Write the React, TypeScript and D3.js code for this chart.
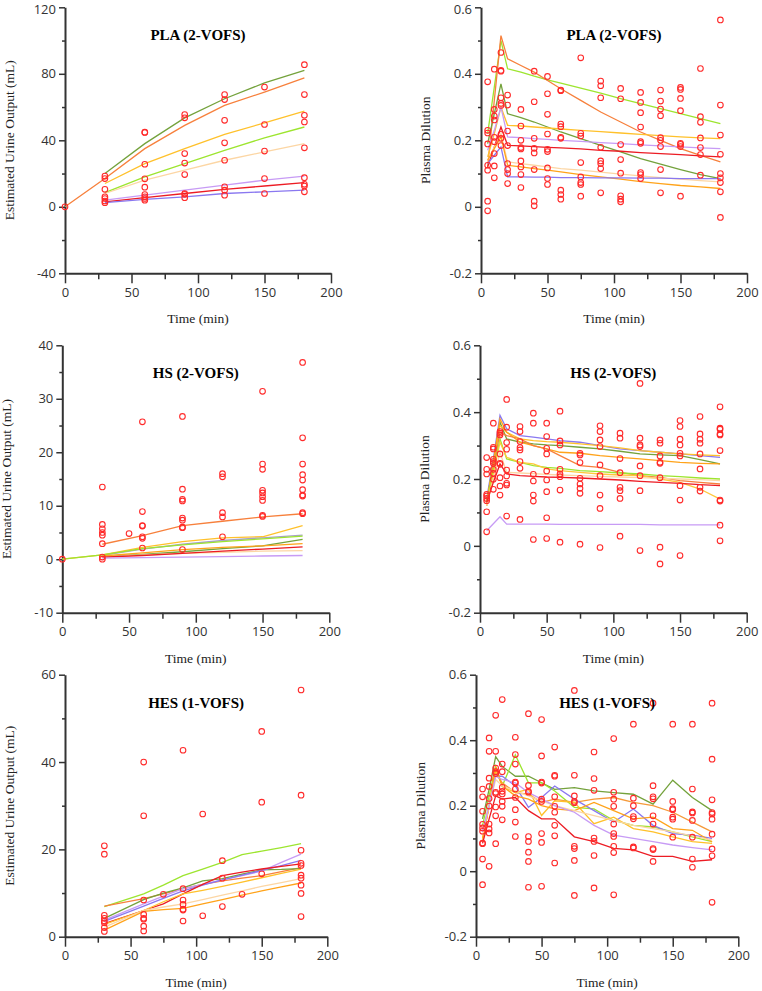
import * as d3 from "d3";
import { useRef, useEffect } from "react";

// colours of the individual fitted curves
const DKGREEN = "#74a23c";
const ORANGE = "#f7803c";
const GOLD = "#ffc12b";
const LIME = "#9de52f";
const PEACH = "#fcd6a4";
const LILAC = "#c79bf5";
const RED = "#ec1c24";
const BLUE = "#8a78f0";
const AMBER = "#ffa31a";
const ORANGE2 = "#f59a3a";

// ---- PLA urine output
const plaUrineObsTimes = [0, 30, 60, 90, 120, 150, 180];
const plaUrineObs = [
  [0],
  [18.5, 17, 10.5, 6, 5, 3.5, 2.5],
  [44.7, 44.9, 25.6, 16.8, 11.8, 7.4, 6, 5, 4],
  [55.5, 53.5, 32, 26.3, 19.4, 8, 7.5, 5.5],
  [67.5, 64.5, 52, 38.5, 28, 12, 10, 7],
  [72, 49.5, 33.5, 17, 8],
  [85.5, 67.5, 55, 51, 35.5, 17.5, 13.5, 12.5, 9],
];
const plaUrineFitTimes = [0, 30, 60, 90, 120, 150, 180];
const plaUrineFits = [
  [null, 20, 38, 53.5, 65, 74.5, 82],
  [0, 17, 35, 49, 61, 69, 77.5],
  [null, 14, 26, 35, 43.5, 50.5, 57.5],
  [null, 8.5, 18, 26, 34, 41.5, 48],
  [null, 8, 16, 22, 28, 33, 38],
  [null, 4, 7, 10, 13, 16, 18.5],
  [null, 3, 5.5, 8, 10.5, 12.5, 14.5],
  [null, 2.5, 4.5, 6, 8, 9, 10],
];
const plaUrineColors = [DKGREEN, ORANGE, GOLD, LIME, PEACH, LILAC, RED, BLUE];

// ---- plasma dilution sampling times (all groups)
const dilTimes = [5, 10, 15, 20, 30, 40, 50, 60, 75, 90, 105, 120, 135, 150, 165, 180];

// ---- PLA plasma dilution
const plaDilObs = [
  [0.376, 0.23, 0.222, 0.189, 0.125, 0.11, 0.017, -0.012],
  [0.414, 0.293, 0.273, 0.261, 0.209, 0.196, 0.16, 0.123, 0.087],
  [0.464, 0.41, 0.408, 0.328, 0.311, 0.305, 0.218, 0.206, 0.184],
  [0.336, 0.306, 0.228, 0.184, 0.13, 0.112, 0.1, 0.07],
  [0.293, 0.243, 0.2, 0.178, 0.174, 0.138, 0.12, 0.097, 0.058],
  [0.408, 0.316, 0.206, 0.176, 0.162, 0.112, 0.017, 0.003],
  [0.392, 0.34, 0.278, 0.219, 0.173, 0.166, 0.117, 0.085, 0.067],
  [0.351, 0.349, 0.249, 0.241, 0.209, 0.206, 0.05, 0.037, 0.023],
  [0.448, 0.221, 0.213, 0.133, 0.09, 0.073, 0.067, 0.032],
  [0.378, 0.364, 0.328, 0.179, 0.138, 0.13, 0.115, 0.042],
  [0.356, 0.325, 0.187, 0.142, 0.101, 0.033, 0.023, 0.015],
  [0.344, 0.314, 0.283, 0.24, 0.196, 0.191, 0.103, 0.097, 0.085],
  [0.351, 0.318, 0.294, 0.274, 0.208, 0.2, 0.181, 0.112, 0.042],
  [0.359, 0.353, 0.326, 0.289, 0.191, 0.188, 0.181, 0.032],
  [0.416, 0.271, 0.254, 0.207, 0.178, 0.157, 0.095],
  [0.562, 0.306, 0.216, 0.158, 0.1, 0.087, 0.073, 0.045, -0.032],
];
const plaDilFits = [
  [0.22, 0.36, 0.5, 0.415, 0.405, 0.393, 0.382, 0.372, 0.357, 0.342, 0.325, 0.31, 0.295, 0.28, 0.265, 0.25],
  [0.12, 0.32, 0.515, 0.445, 0.425, 0.405, 0.38, 0.355, 0.32, 0.285, 0.255, 0.225, 0.2, 0.175, 0.155, 0.135],
  [0.19, 0.28, 0.37, 0.28, 0.268, 0.255, 0.24, 0.225, 0.205, 0.185, 0.165, 0.145, 0.128, 0.112, 0.097, 0.085],
  [0.15, 0.22, 0.3, 0.245, 0.243, 0.24, 0.237, 0.234, 0.23, 0.226, 0.222, 0.218, 0.214, 0.21, 0.207, 0.205],
  [0.17, 0.23, 0.3, 0.21, 0.208, 0.205, 0.203, 0.2, 0.197, 0.193, 0.19, 0.186, 0.183, 0.18, 0.177, 0.175],
  [0.12, 0.18, 0.24, 0.185, 0.183, 0.181, 0.179, 0.177, 0.174, 0.17, 0.167, 0.163, 0.16, 0.157, 0.153, 0.15],
  [0.14, 0.18, 0.22, 0.135, 0.13, 0.125, 0.12, 0.115, 0.11, 0.104, 0.098, 0.093, 0.088, 0.083, 0.079, 0.075],
  [0.14, 0.175, 0.21, 0.125, 0.12, 0.115, 0.11, 0.105, 0.097, 0.09, 0.083, 0.076, 0.07, 0.064, 0.06, 0.055],
  [0.13, 0.155, 0.18, 0.09, 0.09, 0.089, 0.089, 0.088, 0.088, 0.087, 0.087, 0.086, 0.086, 0.085, 0.085, 0.085],
];
const plaDilColors = [LIME, ORANGE, DKGREEN, GOLD, LILAC, RED, PEACH, AMBER, BLUE];

// ---- HS urine output
const hsUrineObsTimes = [0, 30, 50, 60, 90, 120, 150, 180];
const hsUrineObs = [
  [0],
  [13.5, 6.5, 5.7, 5.0, 4.5, 2.9, 0.4, 0],
  [4.8],
  [25.7, 8.9, 6.3, 6.2, 4.2, 3.9, 2.1],
  [26.7, 13.1, 11.2, 10.9, 7.7, 7.3, 6.0, 5.9, 1.8],
  [16.0, 15.4, 8.7, 7.9, 4.2],
  [31.4, 17.8, 16.8, 12.9, 12.4, 11.7, 11.0, 8.2, 8.0],
  [36.8, 22.7, 17.8, 15.8, 14.8, 13.0, 12.0, 11.8, 8.7, 8.5],
];
const hsUrineFitTimes = [0, 30, 60, 90, 120, 150, 180];
const hsUrineFits = [
  [null, 2.8, 4.4, 6.3, 7.1, 7.9, 8.5],
  [0, 0.8, 2.2, 3.3, 4.0, 4.2, 6.3],
  [null, 0.7, 1.9, 2.8, 3.5, 4.0, 4.5],
  [0, 0.8, 2.0, 2.7, 3.3, 3.8, 4.3],
  [null, 0.5, 0.9, 1.4, 2.0, 2.5, 3.7],
  [null, 0.6, 1.2, 1.8, 2.2, 2.5, 2.9],
  [null, 0.4, 0.8, 1.1, 1.3, 1.5, 1.6],
  [null, 0.4, 0.7, 1.1, 1.5, 1.9, 2.3],
  [null, 0.2, 0.3, 0.4, 0.5, 0.6, 0.7],
];
const hsUrineColors = [ORANGE, GOLD, "#a8a0c8", LIME, DKGREEN, AMBER, PEACH, RED, LILAC];

// ---- HS plasma dilution
const hsDilObs = [
  [0.264, 0.229, 0.215, 0.154, 0.149, 0.142, 0.135, 0.102, 0.042],
  [0.367, 0.295, 0.29, 0.259, 0.252, 0.247, 0.229, 0.217, 0.199, 0.169],
  [0.342, 0.337, 0.332, 0.275, 0.247, 0.244, 0.204, 0.179, 0.152],
  [0.438, 0.355, 0.309, 0.289, 0.227, 0.209, 0.187, 0.182, 0.089],
  [0.357, 0.342, 0.312, 0.294, 0.287, 0.252, 0.232, 0.079],
  [0.397, 0.367, 0.214, 0.194, 0.152, 0.134, 0.019],
  [0.367, 0.327, 0.292, 0.275, 0.224, 0.197, 0.162, 0.084, 0.022],
  [0.403, 0.314, 0.302, 0.229, 0.215, 0.207, 0.167, 0.011],
  [0.277, 0.272, 0.249, 0.202, 0.185, 0.172, 0.157, 0.005],
  [0.359, 0.342, 0.317, 0.297, 0.242, 0.21, 0.152, 0.112, -0.005],
  [0.337, 0.322, 0.261, 0.219, 0.175, 0.165, 0.142, 0.029],
  [0.486, 0.322, 0.302, 0.297, 0.239, 0.21, 0.165, -0.014],
  [0.317, 0.307, 0.269, 0.25, 0.247, 0.204, -0.004, -0.054],
  [0.375, 0.357, 0.319, 0.302, 0.277, 0.269, 0.18, 0.137, -0.029],
  [0.387, 0.335, 0.319, 0.307, 0.275, 0.23, 0.175, 0.164],
  [0.416, 0.352, 0.349, 0.335, 0.332, 0.285, 0.137, 0.134, 0.062, 0.015],
];
const hsDilFits = [
  [0.14, 0.26, 0.39, 0.35, 0.33, 0.325, 0.32, 0.315, 0.31, 0.3, 0.29, 0.285, 0.28, 0.275, 0.27, 0.265],
  [0.13, 0.25, 0.37, 0.32, 0.31, 0.305, 0.302, 0.3, 0.295, 0.29, 0.283, 0.275, 0.272, 0.27, 0.258, 0.245],
  [0.13, 0.245, 0.36, 0.34, 0.32, 0.315, 0.312, 0.31, 0.305, 0.3, 0.293, 0.285, 0.28, 0.275, 0.272, 0.27],
  [0.12, 0.25, 0.38, 0.34, 0.31, 0.3, 0.29, 0.28, 0.277, 0.27, 0.265, 0.26, 0.255, 0.25, 0.247, 0.245],
  [0.12, 0.23, 0.34, 0.33, 0.32, 0.3, 0.29, 0.27, 0.24, 0.235, 0.22, 0.21, 0.205, 0.195, 0.19, 0.185],
  [0.13, 0.225, 0.32, 0.26, 0.25, 0.24, 0.235, 0.232, 0.225, 0.222, 0.218, 0.215, 0.21, 0.207, 0.203, 0.2],
  [0.12, 0.215, 0.31, 0.265, 0.25, 0.245, 0.23, 0.225, 0.22, 0.215, 0.212, 0.21, 0.2, 0.19, 0.17, 0.14],
  [0.12, 0.2, 0.28, 0.22, 0.218, 0.216, 0.214, 0.212, 0.21, 0.208, 0.206, 0.204, 0.202, 0.2, 0.198, 0.195],
  [0.13, 0.19, 0.245, 0.215, 0.21, 0.208, 0.206, 0.205, 0.203, 0.2, 0.197, 0.193, 0.19, 0.187, 0.183, 0.18],
  [0.045, 0.066, 0.087, 0.065, 0.065, 0.065, 0.065, 0.064, 0.064, 0.064, 0.064, 0.064, 0.063, 0.063, 0.063, 0.063],
];
const hsDilColors = [BLUE, DKGREEN, GOLD, AMBER, ORANGE, LIME, "#ffc83c", PEACH, RED, LILAC];

// ---- HES urine output
const hesUrineObsTimes = [30, 60, 75, 90, 105, 120, 135, 150, 180];
const hesUrineObs = [
  [20.8, 18.9, 4.9, 4.2, 3.6, 3.2, 2.1, 1.2],
  [40.0, 27.7, 8.4, 5.1, 4.2, 4.0, 2.4, 1.3],
  [9.7],
  [42.7, 11.0, 8.4, 7.4, 6.3, 6.1, 3.6],
  [28.1, 4.8],
  [17.4, 13.4, 6.9],
  [9.7],
  [47.0, 30.8, 14.4],
  [56.5, 32.4, 19.8, 16.8, 16.3, 14.1, 13.4, 11.8, 9.9, 4.6],
];
const hesUrineFitTimes = [30, 60, 75, 90, 105, 120, 135, 150, 165, 180];
const hesUrineFits = [
  [6.9, 9.8, 11.8, 14.0, 15.5, 17.0, 18.8, 19.6, 20.4, 21.3],
  [7.0, 8.7, 9.8, 11.0, 12.0, 12.8, 13.4, 14.0, 14.9, 15.8],
  [4.2, 8.5, 10.0, 11.2, 12.8, 13.3, 14.3, 15.3, 15.4, 15.6],
  [3.8, 7.5, 9.3, 11.0, 12.0, 13.0, 14.0, 15.0, 17.0, 18.9],
  [3.5, 7.0, 8.8, 10.5, 11.8, 13.0, 14.1, 15.2, 16.3, 17.5],
  [3.0, 6.0, 7.5, 9.8, 12.0, 14.0, 14.8, 15.5, 16.1, 16.7],
  [2.8, 6.0, 8.0, 9.8, 10.6, 11.5, 12.5, 13.5, 14.5, 15.5],
  [2.2, 6.0, 6.8, 7.5, 8.5, 9.5, 10.5, 11.5, 12.4, 13.3],
  [1.5, 5.8, 6.2, 6.5, 7.5, 8.5, 9.5, 10.5, 11.4, 12.3],
];
const hesUrineColors = [LIME, ORANGE, DKGREEN, LILAC, BLUE, RED, GOLD, PEACH, AMBER];

// ---- HES plasma dilution
const hesDilObs = [
  [0.251, 0.227, 0.183, 0.143, 0.132, 0.122, 0.086, 0.084, 0.037, -0.041],
  [0.407, 0.366, 0.284, 0.259, 0.222, 0.199, 0.144, 0.129, 0.117, 0.015],
  [0.476, 0.366, 0.315, 0.304, 0.298, 0.241, 0.237, 0.196, 0.169, 0.084],
  [0.524, 0.327, 0.304, 0.256, 0.244, 0.236, 0.213, 0.198, 0.157],
  [0.409, 0.356, 0.327, 0.272, 0.269, 0.251, 0.225, 0.188, 0.15, 0.106],
  [0.481, 0.262, 0.244, 0.241, 0.106, 0.091, 0.058, 0.03, -0.049],
  [0.463, 0.352, 0.272, 0.269, 0.22, 0.213, 0.115, 0.088, -0.046],
  [0.379, 0.293, 0.29, 0.227, 0.198, 0.18, 0.14, 0.108, 0.025],
  [0.552, 0.293, 0.23, 0.213, 0.209, 0.076, 0.069, 0.033, -0.074],
  [0.364, 0.283, 0.247, 0.101, 0.091, 0.048, -0.051],
  [0.405, 0.241, 0.22, 0.198, 0.144, 0.115, 0.106, 0.076, 0.057, -0.072],
  [0.449, 0.223, 0.2, 0.167, 0.16, 0.074, 0.071],
  [0.513, 0.261, 0.227, 0.221, 0.169, 0.144, 0.069, 0.066, 0.03],
  [0.449, 0.213, 0.191, 0.188, 0.165, 0.159, 0.104],
  [0.449, 0.251, 0.181, 0.178, 0.155, 0.104, 0.037, 0.012],
  [0.513, 0.342, 0.218, 0.179, 0.175, 0.159, 0.113, 0.068, 0.047, -0.095],
];
const hesDilFits = [
  [0.16, 0.25, 0.35, 0.32, 0.29, 0.29, 0.27, 0.25, 0.255, 0.245, 0.24, 0.235, 0.205, 0.278, 0.225, 0.185],
  [0.14, 0.23, 0.32, 0.26, 0.355, 0.27, 0.27, 0.245, 0.195, 0.19, 0.155, 0.14, 0.135, 0.12, 0.105, 0.09],
  [0.1, 0.2, 0.3, 0.27, 0.24, 0.235, 0.21, 0.22, 0.21, 0.22, 0.225, 0.21, 0.2, 0.18, 0.15, 0.12],
  [0.12, 0.2, 0.29, 0.29, 0.26, 0.195, 0.225, 0.26, 0.22, 0.185, 0.15, 0.19, 0.14, 0.115, 0.11, 0.1],
  [0.1, 0.2, 0.31, 0.26, 0.24, 0.25, 0.17, 0.215, 0.21, 0.145, 0.165, 0.13, 0.12, 0.105, 0.09, 0.085],
  [0.09, 0.2, 0.32, 0.26, 0.23, 0.22, 0.2, 0.19, 0.185, 0.21, 0.185, 0.16, 0.165, 0.13, 0.125, 0.09],
  [0.11, 0.2, 0.28, 0.26, 0.245, 0.23, 0.215, 0.2, 0.185, 0.17, 0.155, 0.14, 0.13, 0.12, 0.108, 0.095],
  [0.12, 0.2, 0.29, 0.28, 0.27, 0.24, 0.22, 0.2, 0.18, 0.14, 0.11, 0.1, 0.09, 0.08, 0.072, 0.065],
  [0.085, 0.16, 0.23, 0.22, 0.225, 0.185, 0.16, 0.16, 0.105, 0.09, 0.07, 0.065, 0.045, 0.045, 0.03, 0.035],
];
const hesDilColors = [DKGREEN, LIME, ORANGE2, BLUE, GOLD, AMBER, PEACH, LILAC, RED];

// axis ticks
const timeMajor = [0, 50, 100, 150, 200];
const timeMinor = [25, 75, 125, 175];
const dilMajor = [-0.2, 0, 0.2, 0.4, 0.6];
const dilMinor = [-0.1, 0.1, 0.3, 0.5];

const URINE_LABEL = "Estimated Urine Output (mL)";
const DIL_LABEL = "Plasma Dilution";

const panels = [
  { box: [65, 331, 7.3, 273.3], yDomain: [-40, 120], yMajor: [-40, 0, 40, 80, 120], yMinor: [-20, 20, 60, 100],
    title: "PLA (2-VOFS)", yLabel: URINE_LABEL, obsTimes: plaUrineObsTimes, obs: plaUrineObs,
    fitTimes: plaUrineFitTimes, fits: plaUrineFits, colors: plaUrineColors },
  { box: [481, 747, 7.3, 273.3], yDomain: [-0.2, 0.6], yMajor: dilMajor, yMinor: dilMinor,
    title: "PLA (2-VOFS)", yLabel: DIL_LABEL, obsTimes: dilTimes, obs: plaDilObs,
    fitTimes: dilTimes, fits: plaDilFits, colors: plaDilColors },
  { box: [62.3, 329.3, 345.3, 612.7], yDomain: [-10, 40], yMajor: [-10, 0, 10, 20, 30, 40], yMinor: [-5, 5, 15, 25, 35],
    title: "HS (2-VOFS)", yLabel: URINE_LABEL, obsTimes: hsUrineObsTimes, obs: hsUrineObs,
    fitTimes: hsUrineFitTimes, fits: hsUrineFits, colors: hsUrineColors },
  { box: [480, 746.7, 345.3, 612.7], yDomain: [-0.2, 0.6], yMajor: dilMajor, yMinor: dilMinor,
    title: "HS (2-VOFS)", yLabel: DIL_LABEL, obsTimes: dilTimes, obs: hsDilObs,
    fitTimes: dilTimes, fits: hsDilFits, colors: hsDilColors },
  { box: [65, 327.3, 674.7, 936.7], yDomain: [0, 60], yMajor: [0, 20, 40, 60], yMinor: [10, 30, 50],
    title: "HES (1-VOFS)", yLabel: URINE_LABEL, obsTimes: hesUrineObsTimes, obs: hesUrineObs,
    fitTimes: hesUrineFitTimes, fits: hesUrineFits, colors: hesUrineColors },
  { box: [476, 738.3, 674.7, 936.7], yDomain: [-0.2, 0.6], yMajor: dilMajor, yMinor: dilMinor,
    title: "HES (1-VOFS)", yLabel: DIL_LABEL, obsTimes: dilTimes, obs: hesDilObs,
    fitTimes: dilTimes, fits: hesDilFits, colors: hesDilColors },
];

const TICK_FONT = "'Open Sans', 'DejaVu Sans', sans-serif";
const SERIF = "'Liberation Serif', 'Times New Roman', serif";
const AXIS_COLOR = "#333";

export default function App() {
  const svgRef = useRef(null);

  useEffect(() => {
    const svg = d3.select(svgRef.current);
    svg.selectAll("*").remove();

    panels.forEach((p) => {
      const [x0, x1, yTop, yBot] = p.box;
      const x = d3.scaleLinear().domain([0, 200]).range([x0, x1]);
      const y = d3.scaleLinear().domain(p.yDomain).range([yBot, yTop]);
      const g = svg.append("g");

      // minor ticks
      const xMinor = g.append("g").attr("transform", `translate(0,${yBot})`)
        .call(d3.axisBottom(x).tickValues(timeMinor).tickSize(6).tickFormat(() => ""));
      const yMinor = g.append("g").attr("transform", `translate(${x0},0)`)
        .call(d3.axisLeft(y).tickValues(p.yMinor).tickSize(3).tickFormat(() => ""));
      [xMinor, yMinor].forEach((a) => {
        a.select(".domain").remove();
        a.selectAll("line").attr("stroke", AXIS_COLOR).attr("stroke-width", 1.5);
      });

      // major axes
      const xAxis = g.append("g").attr("transform", `translate(0,${yBot})`)
        .call(d3.axisBottom(x).tickValues(timeMajor).tickSize(10).tickSizeOuter(0).tickPadding(4));
      const yAxis = g.append("g").attr("transform", `translate(${x0},0)`)
        .call(d3.axisLeft(y).tickValues(p.yMajor).tickSize(6).tickSizeOuter(0).tickPadding(3)
          .tickFormat((d) => String(+(+d).toFixed(2))));
      [xAxis, yAxis].forEach((a) => {
        a.select(".domain").attr("stroke", AXIS_COLOR).attr("stroke-width", 2);
        a.selectAll("line").attr("stroke", AXIS_COLOR).attr("stroke-width", 1.5);
        a.selectAll("text").attr("fill", "#333").style("font-family", TICK_FONT).style("font-size", "13px");
      });
      // keep the topmost y label inside the page
      yAxis.selectAll("text").filter((d) => y(d) < 8).attr("dy", "0.5em");

      // fitted curves
      p.fits.forEach((vals, i) => {
        const pts = vals.map((v, j) => [p.fitTimes[j], v]).filter((d) => d[1] !== null);
        g.append("path")
          .attr("d", d3.line().x((d) => x(d[0])).y((d) => y(d[1]))(pts))
          .attr("fill", "none")
          .attr("stroke", p.colors[i % p.colors.length])
          .attr("stroke-width", 1.3);
      });

      // observations
      const obsPts = p.obs.flatMap((vals, j) => vals.map((v) => [p.obsTimes[j], v]));
      g.append("g").selectAll("circle").data(obsPts).join("circle")
        .attr("cx", (d) => x(d[0]))
        .attr("cy", (d) => y(d[1]))
        .attr("r", 2.8)
        .attr("fill", "none")
        .attr("stroke", "#ff2a2a")
        .attr("stroke-width", 1.1);

      // title
      g.append("text")
        .attr("x", (x0 + x1) / 2)
        .attr("y", yTop + 33)
        .attr("text-anchor", "middle")
        .style("font-family", SERIF)
        .style("font-weight", "bold")
        .style("font-size", "15px")
        .text(p.title);

      // axis labels
      g.append("text")
        .attr("x", (x0 + x1) / 2)
        .attr("y", yBot + 50)
        .attr("text-anchor", "middle")
        .style("font-family", SERIF)
        .style("font-weight", "400")
        .style("font-size", "13.5px")
        .attr("fill", "#222")
        .text("Time (min)");

      g.append("text")
        .attr("transform", `translate(${x0 - 51},${(yTop + yBot) / 2}) rotate(-90)`)
        .attr("text-anchor", "middle")
        .style("font-family", SERIF)
        .style("font-weight", "400")
        .style("font-size", "13.5px")
        .attr("fill", "#222")
        .text(p.yLabel);
    });
  }, []);

  return (
    <svg
      ref={svgRef}
      width={762}
      height={991}
      style={{ position: "absolute", left: 0, top: 0, background: "#fff" }}
    />
  );
}
